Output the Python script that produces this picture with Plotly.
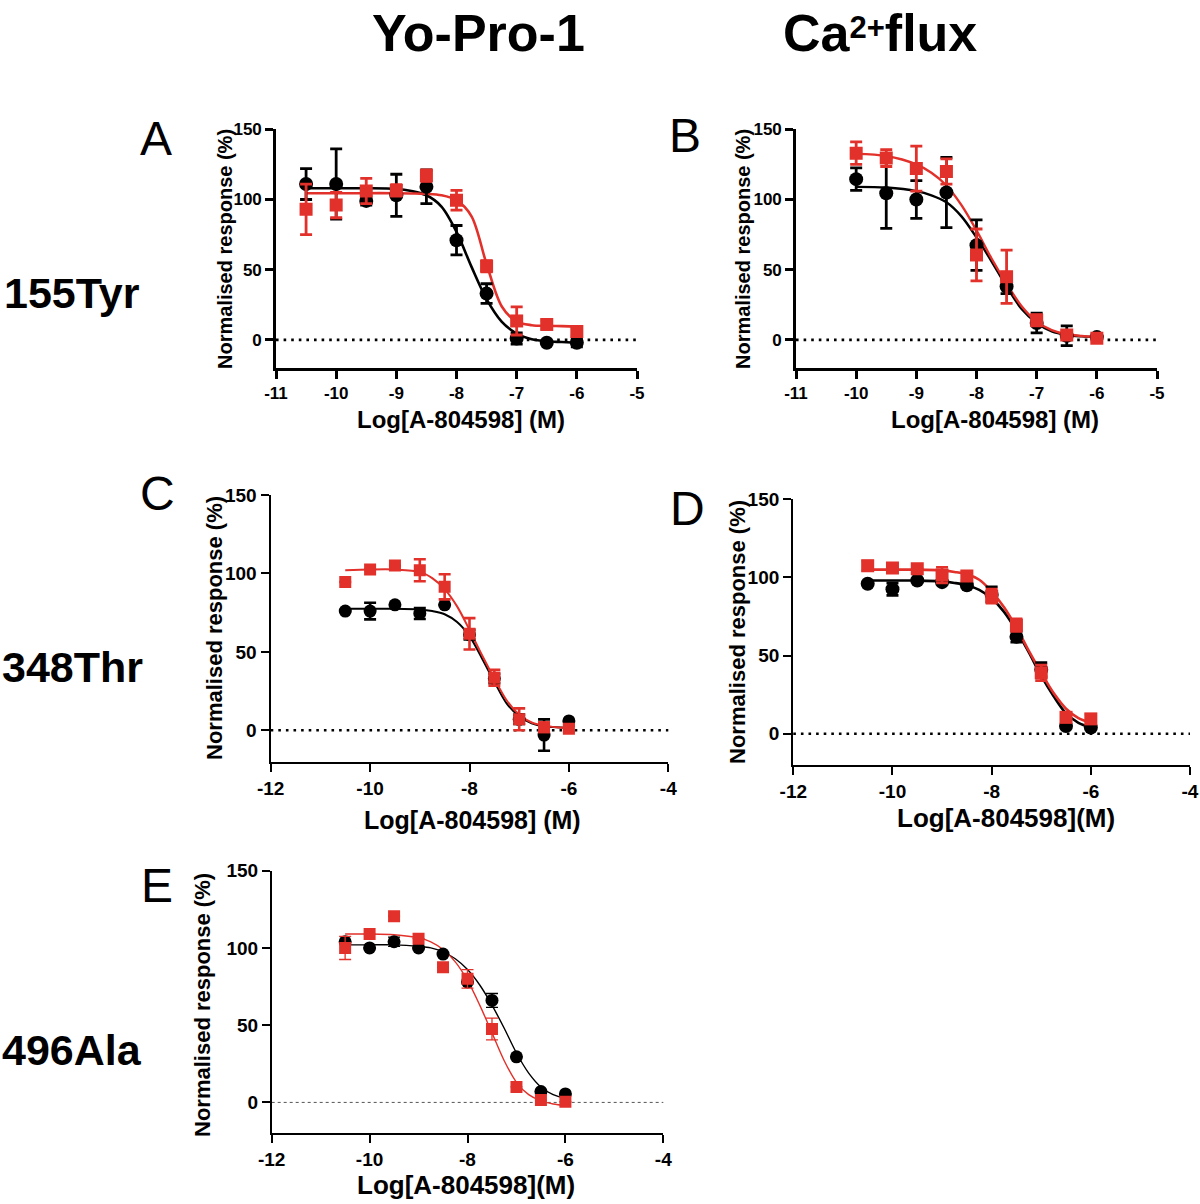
import plotly.graph_objects as go

W, H = 1200, 1204
RED = "#E2302A"
BLACK = "#000000"

# ---------------- data ----------------
CONC = [-10.5, -10, -9.5, -9, -8.5, -8, -7.5, -7, -6.5, -6]
CONC_B = [-10, -9.5, -9, -8.5, -8, -7.5, -7, -6.5, -6]
FIT_X = [-10.5, -10, -9.5, -9, -8.75, -8.5, -8.25, -8, -7.75, -7.5, -7.25, -7, -6.75, -6.5, -6.25, -6]
FIT_X_B = [-10, -9.5, -9, -8.75, -8.5, -8.25, -8, -7.75, -7.5, -7.25, -7, -6.75, -6.5, -6.25, -6]

# Panel A (155Tyr, Yo-Pro-1)
A_blk = [111, 111, 99, 103, 109, 71, 33, 1, -2, -2]
A_blk_err = [11, 25, 3, 15, 12, 10.5, 7, 4, 0, 3]
A_red = [93, 96, 106, 106.5, 117, 99.5, 52.5, 13.5, 11, 6]
A_red_err = [18, 9, 9, 4, 4, 7, 4, 10, 3, 3]
A_blk_fit = [108, 108, 108, 107.5, 106, 103, 95, 77, 52, 29, 13, 4.5, 0.5, -1, -1.5, -2]
A_red_fit = [104.5, 104.5, 104.5, 104.5, 104.3, 104, 103, 99.5, 88, 54, 24, 13, 10.5, 10, 9.8, 9.5]

# Panel B (155Tyr, Ca2+ flux)
B_blk = [114.5, 104.5, 100, 105, 67.5, 38, 12, 3, 2]
B_blk_err = [8, 25, 13.5, 25, 18, 5, 7, 7, 2]
B_red = [133, 129.5, 122, 120, 60.5, 45, 14, 3.5, 1.2]
B_red_err = [8, 6, 16, 9, 18.5, 19, 4, 3, 2]
B_blk_fit = [109, 108.5, 106, 103, 98, 88, 73, 56, 38, 22, 12, 6, 3.5, 2.5, 2]
B_red_fit = [132.5, 131, 125, 119, 110, 96, 78, 58, 40, 24, 13, 7, 4, 2.8, 2]

# Panel C (348Thr, Yo-Pro-1)
C_blk = [76, 76, 80, 74.5, 80, 61, 33, 7, -3, 6]
C_blk_err = [0, 5.3, 0, 3.5, 0, 3, 3, 3, 10, 0]
C_red = [94.5, 102.5, 105, 102, 91.5, 61.5, 33.5, 7, 2, 1]
C_red_err = [0, 0, 0, 7, 8, 10, 5, 7, 3, 2]
C_blk_fit = [77.5, 77.5, 77.5, 77, 76, 74, 69, 60, 46, 31, 17, 9, 4.5, 2.5, 2, 1.5]
C_red_fit = [102, 102.5, 102.5, 101, 97, 90, 79, 64, 48, 33, 19, 10, 5, 3, 2, 1.5]

# Panel D (348Thr, Ca2+ flux)
D_blk = [96, 92.5, 98, 97, 95, 89, 62, 41, 5, 4]
D_blk_err = [0, 4, 0, 0, 0, 5, 3.5, 4.5, 0, 0]
D_red = [107.5, 106, 105.5, 101.5, 101, 88, 69.5, 39, 10.5, 9.5]
D_red_err = [3, 0, 0, 5, 3, 4.5, 4, 5, 3, 3]
D_blk_fit = [98, 98, 98, 97.5, 96.5, 95, 92, 86.5, 78, 66, 52, 37, 24, 13, 7, 4]
D_red_fit = [105, 105, 105, 104.5, 103.5, 102, 98.5, 91, 81, 68, 53, 39, 26, 16, 10, 7]

# Panel E (496Ala, Yo-Pro-1)
E_blk = [104, 100, 104, 100, 96, 78, 66, 29.5, 7, 5.5]
E_blk_err = [0, 0, 3, 0, 0, 0, 4.5, 0, 0, 0]
E_red = [100, 109, 120.5, 106, 87.5, 80, 47.5, 10, 1.5, 0.5]
E_red_err = [7.5, 0, 0, 0, 0, 6, 7, 0, 0, 0]
E_blk_fit = [102, 102, 102, 101, 100, 97.5, 93, 86, 76, 63, 48, 32, 19, 10, 5, 2.5]
E_red_fit = [109, 109, 108.5, 106.5, 104, 99, 91, 79, 63, 45, 27, 13, 5, 1, -1, -2]

X_TICKS_1 = [-11, -10, -9, -8, -7, -6, -5]
X_TICKS_2 = [-12, -10, -8, -6, -4]
Y_TICKS = [0, 50, 100, 150]

X_TITLE_1 = "Log[A-804598] (M)"
X_TITLE_2 = "Log[A-804598](M)"
Y_TITLE = "Normalised response (%)"

# ---------------- layout helpers ----------------
def px_x(v):
    return v / W

def px_y(v):
    return 1 - v / H

panels = [
    dict(key="A", dom=(276, 637, 129.3, 368), xt=X_TICKS_1, lw=2.6, tfs=17, ms=13, elw=2.8, clw=2.6,
         x=CONC, blk=A_blk, be=A_blk_err, red=A_red, re=A_red_err, fx=FIT_X, bf=A_blk_fit, rf=A_red_fit,
         ytitle=(225, 249, 20), xtitle=(461, 420, 24, X_TITLE_1), zl="dot"),
    dict(key="B", dom=(796, 1157, 129.3, 368), xt=X_TICKS_1, lw=2.6, tfs=17, ms=13, elw=2.8, clw=2.4,
         x=CONC_B, blk=B_blk, be=B_blk_err, red=B_red, re=B_red_err, fx=FIT_X_B, bf=B_blk_fit, rf=B_red_fit,
         ytitle=(743, 249, 20), xtitle=(995, 420, 24, X_TITLE_1), zl="dot"),
    dict(key="C", dom=(270.7, 668.3, 495, 761.7), xt=X_TICKS_2, lw=2.4, tfs=19, ms=12, elw=2.6, clw=2.0,
         x=CONC, blk=C_blk, be=C_blk_err, red=C_red, re=C_red_err, fx=FIT_X, bf=C_blk_fit, rf=C_red_fit,
         ytitle=(214, 628, 22), xtitle=(472, 820, 25, X_TITLE_1), zl="dot"),
    dict(key="D", dom=(793.3, 1190, 499.3, 765), xt=X_TICKS_2, lw=2.4, tfs=19, ms=13, elw=2.6, clw=2.6,
         x=CONC, blk=D_blk, be=D_blk_err, red=D_red, re=D_red_err, fx=FIT_X, bf=D_blk_fit, rf=D_red_fit,
         ytitle=(737, 632, 22), xtitle=(1006, 818, 26, X_TITLE_2), zl="dot"),
    dict(key="E", dom=(271.7, 663.3, 870.7, 1133.3), xt=X_TICKS_2, lw=1.6, tfs=19, ms=12, elw=1.3, clw=1.4,
         x=CONC, blk=E_blk, be=E_blk_err, red=E_red, re=E_red_err, fx=FIT_X, bf=E_blk_fit, rf=E_red_fit,
         ytitle=(202, 1005, 22), xtitle=(466, 1185, 26, X_TITLE_2), zl="dash"),
]

fig = go.Figure()
annotations = []
shapes = []
FONT = "Liberation Sans, Arial, Helvetica, sans-serif"

for i, p in enumerate(panels):
    n = "" if i == 0 else str(i + 1)
    xa, ya = "x" + n, "y" + n
    x0, x1, yt, yb = p["dom"]
    xr = [p["xt"][0], p["xt"][-1]]
    axis_common = dict(showgrid=False, zeroline=False, showline=True, linecolor=BLACK,
                       linewidth=p["lw"], ticks="outside", ticklen=8, tickwidth=p["lw"],
                       tickcolor=BLACK, mirror=False, automargin=False,
                       tickfont=dict(family=FONT, size=p["tfs"], color=BLACK, weight="bold"))
    fig.layout["xaxis" + n] = dict(domain=[px_x(x0), px_x(x1)], range=xr, anchor=ya,
                                   tickvals=p["xt"], ticktext=[str(t) for t in p["xt"]],
                                   **axis_common)
    fig.layout["yaxis" + n] = dict(domain=[px_y(yb), px_y(yt)], range=[-20, 150], anchor=xa,
                                   tickvals=Y_TICKS, ticktext=[str(t) for t in Y_TICKS],
                                   **axis_common)
    # zero reference line
    if p["zl"] == "dot":
        shapes.append(dict(type="line", xref=xa + " domain", yref=ya, x0=0, x1=1, y0=0, y1=0,
                           line=dict(color=BLACK, width=2.6, dash="2.6px,5px"), layer="below"))
    else:
        shapes.append(dict(type="line", xref=xa + " domain", yref=ya, x0=0, x1=1, y0=0, y1=0,
                           line=dict(color="#555555", width=1, dash="3px,3px"), layer="below"))
    # fitted curves
    for fy, col in ((p["bf"], BLACK), (p["rf"], RED)):
        fig.add_trace(go.Scatter(x=p["fx"], y=fy, mode="lines", xaxis=xa, yaxis=ya,
                                 line=dict(color=col, width=p["clw"], shape="spline", smoothing=0.9),
                                 showlegend=False, hoverinfo="skip"))
    # data points
    fig.add_trace(go.Scatter(x=p["x"], y=p["blk"], mode="markers", xaxis=xa, yaxis=ya,
                             marker=dict(symbol="circle", size=p["ms"] + 1, color=BLACK),
                             error_y=dict(type="data", array=p["be"], visible=True, color=BLACK,
                                          thickness=p["elw"], width=6),
                             showlegend=False))
    fig.add_trace(go.Scatter(x=p["x"], y=p["red"], mode="markers", xaxis=xa, yaxis=ya,
                             marker=dict(symbol="square", size=p["ms"], color=RED),
                             error_y=dict(type="data", array=p["re"], visible=True, color=RED,
                                          thickness=p["elw"], width=6),
                             showlegend=False))
    # axis titles
    tx, ty, ts = p["ytitle"]
    annotations.append(dict(text=Y_TITLE, x=px_x(tx), y=px_y(ty), xref="paper", yref="paper",
                            textangle=-90, showarrow=False, xanchor="center", yanchor="middle",
                            font=dict(family=FONT, size=ts, color=BLACK, weight="bold")))
    tx, ty, ts, tt = p["xtitle"]
    annotations.append(dict(text=tt, x=px_x(tx), y=px_y(ty), xref="paper", yref="paper",
                            showarrow=False, xanchor="center", yanchor="middle",
                            font=dict(family=FONT, size=ts, color=BLACK, weight="bold")))

# panel letters
LETTERS = [("A", 156, 138), ("B", 685, 136), ("C", 158, 494), ("D", 687, 508), ("E", 157, 885)]
for t, x, y in LETTERS:
    annotations.append(dict(text=t, x=px_x(x), y=px_y(y), xref="paper", yref="paper",
                            showarrow=False, xanchor="center", yanchor="middle",
                            font=dict(family=FONT, size=48, color=BLACK)))

# row labels
ROWS = [("155Tyr", 72, 293), ("348Thr", 72, 667), ("496Ala", 72, 1050)]
for t, x, y in ROWS:
    annotations.append(dict(text=t, x=px_x(x), y=px_y(y), xref="paper", yref="paper",
                            showarrow=False, xanchor="center", yanchor="middle",
                            font=dict(family=FONT, size=43, color=BLACK, weight="bold")))

# column headers
COLS = [("Yo-Pro-1", 478, 33),
        ("Ca<span style='font-size:31px;baseline-shift:13px'>2+</span>flux", 880, 33)]
for t, x, y in COLS:
    annotations.append(dict(text=t, x=px_x(x), y=px_y(y), xref="paper", yref="paper",
                            showarrow=False, xanchor="center", yanchor="middle",
                            font=dict(family=FONT, size=52, color=BLACK, weight="bold")))

fig.update_layout(width=W, height=H, margin=dict(l=0, r=0, t=0, b=0),
                  paper_bgcolor="white", plot_bgcolor="white",
                  annotations=annotations, shapes=shapes, showlegend=False)

fig.write_html("out.html", config={"displayModeBar": False},
               post_script="document.body.style.margin='0px';document.body.style.overflow='hidden';")
